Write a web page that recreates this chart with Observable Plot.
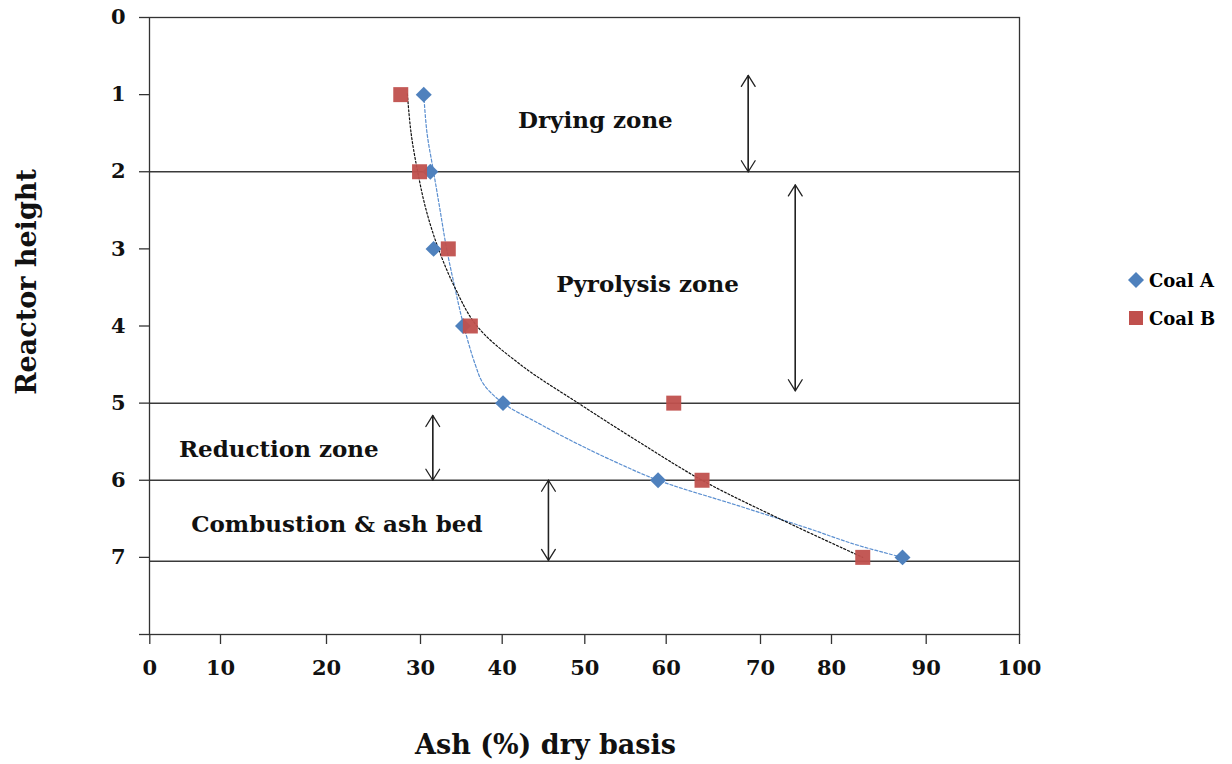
<!DOCTYPE html>
<html>
<head>
<meta charset="utf-8">
<script src="https://cdn.jsdelivr.net/npm/d3@7"></script>
<script src="https://cdn.jsdelivr.net/npm/@observablehq/plot@0.6"></script>
<style>
  body { margin: 0; background: #fff; }
  #wrap { position: relative; width: 1232px; height: 764px; }
  .lg { position: absolute; left: 1128px; height: 24px; display: flex; align-items: center;
        font-family: "DejaVu Serif", serif; font-weight: bold; font-size: 18px; color: #000; white-space: nowrap; }
  .lg svg { display: block; }
  .lg span { margin-left: 5px; }
</style>
</head>
<body>
<div id="wrap"></div>
<script>
// ---- data ----
const heights = [1, 2, 3, 4, 5, 6, 7];
const coalA = [30.4, 31.2, 31.6, 35.2, 40.1, 59.0, 87.5];
const coalB = [27.9, 29.9, 33.4, 36.1, 60.8, 63.8, 83.3];

// dotted trend curves
const trendAHeight = [1, 1.5, 2, 2.5, 3, 3.5, 4, 4.5, 4.75, 5, 5.25, 5.5, 5.75, 6, 6.34, 6.62, 6.84, 7];
const trendAAsh    = [30.4, 30.8, 31.6, 32.4, 33.2, 34.2, 35.3, 36.7, 37.7, 40.1, 44.2, 48.6, 53.5, 59.0, 67.9, 76.6, 82.7, 87.5];
const trendBHeight = [0.99, 1.5, 2, 2.5, 3, 3.5, 4, 4.5, 5, 5.5, 6, 6.5, 7];
const trendBAsh    = [28.6, 29.0, 29.7, 30.7, 32.2, 34.2, 36.9, 42.2, 49.2, 56.6, 63.8, 72.7, 83.3];

// zone boundaries and annotations
const zoneBounds = [2, 5, 6, 7.05];
const zoneLabels = ["Drying zone", "Pyrolysis zone", "Reduction zone", "Combustion & ash bed"];
const zoneLabelX = [51.3, 57.7, 15.5, 21.1];
const zoneLabelY = [1.34, 3.46, 5.6, 6.58];
const arrowX      = [68.7, 74.9, 31.5, 45.6];
const arrowTop    = [0.75, 2.17, 5.16, 6.0];
const arrowBottom = [2.0, 4.84, 6.0, 7.04];

// ticks
const xTicks = [0, 10, 20, 30, 40, 50, 60, 70, 80, 90, 100];
const yTicks = [0, 1, 2, 3, 4, 5, 6, 7, 8];
const yTickLabels = ["0", "1", "2", "3", "4", "5", "6", "7", ""];

const seriesNames = ["Coal A", "Coal B"];
const colors = ["#4F81BD", "#C0504D"];

// ---- build tables ----
const ptsA = heights.map((h, i) => ({h, ash: coalA[i]}));
const ptsB = heights.map((h, i) => ({h, ash: coalB[i]}));
const trA = trendAHeight.map((h, i) => ({h, ash: trendAAsh[i]}));
const trB = trendBHeight.map((h, i) => ({h, ash: trendBAsh[i]}));
const zones = zoneLabels.map((label, i) => ({label, x: zoneLabelX[i], y: zoneLabelY[i]}));
const arrows = arrowX.flatMap((x, i) => [
  {x, y1: arrowBottom[i], y2: arrowTop[i]},
  {x, y1: arrowTop[i], y2: arrowBottom[i]}
]);

const chart = Plot.plot({
  width: 1232,
  height: 764,
  marginLeft: 149,
  marginRight: 213,
  marginTop: 17,
  marginBottom: 130,
  style: {fontFamily: '"DejaVu Serif", serif', fontWeight: "bold", fontSize: "21px", color: "#000", background: "#fff"},
  x: {type: "linear", domain: xTicks, range: [149.3, 220, 326, 420, 501.7, 584.3, 665.7, 760, 831, 925.7, 1019]},
  y: {domain: [0, 8], reverse: true},
  marks: [
    Plot.ruleY(zoneBounds, {stroke: "#3a3a3a", strokeWidth: 1.5}),
    Plot.line(trA, {x: "ash", y: "h", curve: "catmull-rom", stroke: "#5B8FD0", strokeWidth: 1.2, strokeDasharray: "3,2"}),
    Plot.line(trB, {x: "ash", y: "h", curve: "catmull-rom", stroke: "#111", strokeWidth: 1.2, strokeDasharray: "2,2"}),
    Plot.dot(ptsA, {x: "ash", y: "h", symbol: "diamond2", r: 7.2, fill: colors[0], stroke: "none"}),
    Plot.dot(ptsB, {x: "ash", y: "h", symbol: "square", r: 8.46, fill: colors[1], stroke: "none", fillOpacity: 0.95}),
    Plot.arrow(arrows, {x1: "x", y1: "y1", x2: "x", y2: "y2", stroke: "#222", strokeWidth: 1.3, headAngle: 64, headLength: 15}),
    Plot.text(zones, {x: "x", y: "y", text: "label", fontSize: 23, textAnchor: "middle", fill: "#111"}),
    Plot.text(["Ash (%) dry basis"], {frameAnchor: "bottom", textAnchor: "middle", lineAnchor: "middle", dx: -39, dy: 111, fontSize: 27, fill: "#111"}),
    Plot.text(["Reactor height"], {frameAnchor: "left", textAnchor: "middle", lineAnchor: "middle", rotate: -90, dx: -122, dy: -44, fontSize: 27, fill: "#111"}),
    Plot.frame({stroke: "#333", strokeWidth: 1.3}),
    Plot.axisX({ticks: xTicks, tickSize: 10, tickPadding: 16, label: null, stroke: "#333", strokeWidth: 1.3, fill: "#111"}),
    Plot.axisY({ticks: yTicks, tickSize: 10, tickPadding: 14, label: null, stroke: "#333", strokeWidth: 1.3, fill: "#111",
                tickFormat: d => yTickLabels[yTicks.indexOf(d)]})
  ]
});

const wrap = document.getElementById("wrap");
wrap.appendChild(chart);

// legend (overlaid at the right, as in the reference)
const legendTops = [268, 306];
seriesNames.forEach((name, i) => {
  const row = document.createElement("div");
  row.className = "lg";
  row.style.top = legendTops[i] + "px";
  const sym = i === 0
    ? `<svg width="16" height="16"><path d="M8 0L16 8L8 16L0 8Z" fill="${colors[0]}"/></svg>`
    : `<svg width="16" height="16"><rect x="1" y="1" width="14" height="14" fill="${colors[1]}"/></svg>`;
  row.innerHTML = sym + `<span>${name}</span>`;
  wrap.appendChild(row);
});
</script>
</body>
</html>
